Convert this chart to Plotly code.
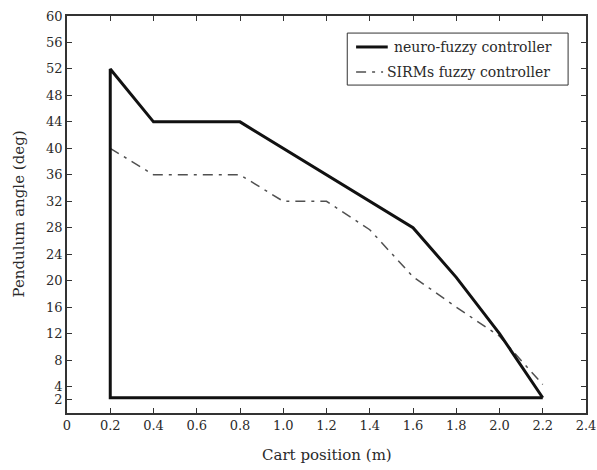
import plotly.graph_objects as go

# Neuro-fuzzy controller trajectory (closed path: base line, vertical rise, descent)
nf_x = [2.2, 0.2, 0.2, 0.4, 0.8, 1.6, 1.8, 2.0, 2.2]
nf_y = [2.3, 2.3, 52, 44, 44, 28, 20.5, 12, 2.3]

# SIRMs fuzzy controller trajectory
sf_x = [0.2, 0.4, 0.8, 1.0, 1.2, 1.4, 1.6, 1.8, 2.0, 2.2]
sf_y = [40, 36, 36, 32, 32, 27.7, 20.6, 16.0, 11.6, 4.3]

x_ticks = [0, 0.2, 0.4, 0.6, 0.8, 1.0, 1.2, 1.4, 1.6, 1.8, 2.0, 2.2, 2.4]
x_labels = ["0", "0.2", "0.4", "0.6", "0.8", "1.0", "1.2", "1.4", "1.6", "1.8", "2.0", "2.2", "2.4"]
y_ticks = [2, 4, 8, 12, 16, 20, 24, 28, 32, 36, 40, 44, 48, 52, 56, 60]
y_labels = [str(v) for v in y_ticks]

legend_names = ["neuro-fuzzy controller", "SIRMs fuzzy controller"]
x_title = "Cart position (m)"
y_title = "Pendulum angle (deg)"

FONT = "DejaVu Serif"
TXT = "#2a2a2a"
DASH = "10px,6px,3px,6px"

fig = go.Figure()
fig.add_trace(go.Scatter(x=sf_x, y=sf_y, mode="lines", name=legend_names[1],
                         line=dict(color="#505050", width=1.5, dash=DASH),
                         showlegend=False))
fig.add_trace(go.Scatter(x=nf_x, y=nf_y, mode="lines", name=legend_names[0],
                         line=dict(color="#111111", width=3), showlegend=False))

# Manual legend box (paper coordinates)
fig.add_shape(type="rect", xref="paper", yref="paper", x0=0.540, x1=0.9655, y0=0.826, y1=0.957,
              line=dict(color="#333333", width=1), fillcolor="white", layer="above")
fig.add_shape(type="line", xref="paper", yref="paper", x0=0.557, x1=0.618, y0=0.922, y1=0.922,
              line=dict(color="#111111", width=3), layer="above")
fig.add_shape(type="line", xref="paper", yref="paper", x0=0.557, x1=0.609, y0=0.859, y1=0.859,
              line=dict(color="#505050", width=1.5, dash=DASH), layer="above")
fig.add_annotation(xref="paper", yref="paper", x=0.627, y=0.922, text=legend_names[0],
                   showarrow=False, xanchor="left", yanchor="middle",
                   font=dict(family=FONT, size=14, color=TXT))
fig.add_annotation(xref="paper", yref="paper", x=0.612, y=0.859, text=legend_names[1],
                   showarrow=False, xanchor="left", yanchor="middle",
                   font=dict(family=FONT, size=14, color=TXT))

# Axis titles
fig.add_annotation(xref="paper", yref="paper", x=0.5, y=0, yshift=-42, text=x_title,
                   showarrow=False, xanchor="center", yanchor="middle",
                   font=dict(family=FONT, size=15, color=TXT))
fig.add_annotation(xref="paper", yref="paper", x=0, y=0.5, xshift=-49, text=y_title,
                   textangle=-90, showarrow=False, xanchor="center", yanchor="middle",
                   font=dict(family=FONT, size=15, color=TXT))

axis_common = dict(showgrid=False, zeroline=False, showline=True, linecolor="#333333",
                   linewidth=1.5, mirror="ticks", ticks="inside", ticklen=5, tickwidth=1,
                   tickcolor="#333333", automargin=False, ticklabeloverflow="allow",
                   tickfont=dict(family=FONT, size=13, color=TXT))

fig.update_xaxes(range=[0, 2.4], tickvals=x_ticks, ticktext=x_labels, **axis_common)
fig.update_yaxes(range=[0, 60], tickvals=y_ticks, ticktext=y_labels, **axis_common)

fig.update_layout(width=597, height=470, margin=dict(l=67, r=11, t=16, b=57),
                  plot_bgcolor="white", paper_bgcolor="white",
                  font=dict(family=FONT))

fig.write_html("out.html", config={"displayModeBar": False},
               post_script="document.body.style.margin='0';")
